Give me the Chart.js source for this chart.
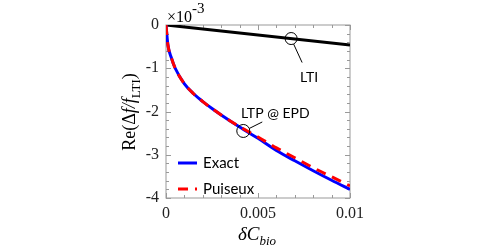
<!DOCTYPE html>
<html>
<head>
<meta charset="utf-8">
<script src="https://cdn.jsdelivr.net/npm/chart.js@4.4.1/dist/chart.umd.min.js"></script>
<style>
  html, body { margin: 0; padding: 0; background: #fff; }
  #wrap { width: 485px; height: 249px; }
</style>
</head>
<body>
<div id="wrap"><canvas id="chart" width="485" height="249"></canvas></div>
<script>
// values, y in units of 1e-3
const xValues = [0, 0.0001, 0.0003, 0.0005, 0.001, 0.0015, 0.002, 0.0025, 0.003, 0.004, 0.005, 0.006, 0.007, 0.008, 0.009, 0.01];
const exactValues = [0, -0.45, -0.77, -1.0, -1.36, -1.59, -1.77, -1.93, -2.08, -2.36, -2.62, -2.9, -3.14, -3.37, -3.59, -3.8];
const puiseuxValues = [0, -0.45, -0.77, -1.0, -1.36, -1.59, -1.77, -1.93, -2.08, -2.35, -2.59, -2.84, -3.07, -3.3, -3.51, -3.72];
const ltiX = [0, 0.01];
const ltiValues = [0, -0.46];

const xMajorTicks = [0, 0.005, 0.01];
const yMajorTicks = [0, -1, -2, -3, -4];

const serif = "'Liberation Serif', 'Times New Roman', serif";
const sans = "Lato, 'Open Sans', sans-serif";

const toPoints = (xs, ys) => xs.map((x, i) => ({ x: x, y: ys[i] }));

// draw a row of text pieces (font + vertical shift), centred on cx
function drawPieces(ctx, pieces, cx, baseline) {
    let total = 0;
    pieces.forEach(p => { ctx.font = p.font; total += ctx.measureText(p.text).width; });
    let x = cx - total / 2;
    pieces.forEach(p => {
        ctx.font = p.font;
        ctx.fillText(p.text, x, baseline + (p.dy || 0));
        x += ctx.measureText(p.text).width;
    });
}

// box with inward ticks on all four sides, plus labels and legend
const frame = {
    id: "frame",
    beforeDatasetsDraw(chart) {
        const { ctx, chartArea: a, scales: { x, y } } = chart;
        ctx.save();
        ctx.strokeStyle = "#999";
        ctx.lineWidth = 1;
        ctx.strokeRect(a.left, a.top, a.right - a.left, a.bottom - a.top);
        ctx.beginPath();
        for (let i = 0; i <= 10; i++) {
            const px = Math.round(x.getPixelForValue(i * 0.001)) + 0.5;
            const len = (i % 5 === 0) ? 5 : 3;
            ctx.moveTo(px, a.bottom); ctx.lineTo(px, a.bottom - len);
            ctx.moveTo(px, a.top); ctx.lineTo(px, a.top + len);
        }
        for (let i = 0; i <= 20; i++) {
            const py = Math.round(y.getPixelForValue(-i * 0.2)) + 0.5;
            const len = (i % 5 === 0) ? 5 : 3;
            ctx.moveTo(a.left, py); ctx.lineTo(a.left + len, py);
            ctx.moveTo(a.right, py); ctx.lineTo(a.right - len, py);
        }
        ctx.stroke();
        ctx.restore();
    },
    afterDatasetsDraw(chart) {
        const { ctx, scales: { x, y } } = chart;
        const ds = chart.data.datasets;
        ctx.save();

        // annotation circles and leaders
        ctx.strokeStyle = "#000";
        ctx.lineWidth = 1;
        const lx = x.getPixelForValue(0.0068), ly = y.getPixelForValue(-0.313);
        ctx.beginPath(); ctx.arc(lx, ly, 6, 0, Math.PI * 2); ctx.stroke();
        ctx.beginPath(); ctx.moveTo(lx + 2.5, ly + 5.5); ctx.lineTo(lx + 11, ly + 24); ctx.stroke();
        const ex = x.getPixelForValue(0.0042), ey = y.getPixelForValue(-2.45);
        ctx.beginPath(); ctx.arc(ex, ey, 6.5, 0, Math.PI * 2); ctx.stroke();
        ctx.beginPath(); ctx.moveTo(ex + 6, ey - 2.5); ctx.lineTo(ex + 19, ey - 9); ctx.stroke();

        ctx.fillStyle = "#000";
        ctx.textBaseline = "alphabetic";
        ctx.textAlign = "left";
        ctx.font = "14px " + sans;
        ctx.fillText("LTI", lx + 9, ly + 43);
        ctx.fillText("LTP @ EPD", 241, 118);

        // legend
        const items = [
            { d: ds[1], label: "Exact", y: 163 },
            { d: ds[0], label: "Puiseux", y: 189 }
        ];
        items.forEach(it => {
            ctx.strokeStyle = it.d.borderColor;
            ctx.lineWidth = it.d.borderWidth;
            ctx.setLineDash(it.d.borderDash || []);
            ctx.beginPath(); ctx.moveTo(178, it.y); ctx.lineTo(197, it.y); ctx.stroke();
            ctx.setLineDash([]);
            ctx.font = "15px " + sans;
            ctx.textBaseline = "middle";
            ctx.fillText(it.label, 203, it.y);
        });

        // scale factor
        ctx.textBaseline = "alphabetic";
        ctx.font = "16px " + serif;
        ctx.fillText("\u00d710", 167, 22);
        ctx.font = "15px " + serif;
        ctx.fillText("-3", 192, 13);

        // axis titles
        drawPieces(ctx, [
            { text: "\u03b4C", font: "italic 19px " + serif },
            { text: "bio", font: "italic 13px " + serif, dy: 5 }
        ], 257, 240);

        ctx.translate(135, 112);
        ctx.rotate(-Math.PI / 2);
        drawPieces(ctx, [
            { text: "Re(\u0394", font: "18px " + serif },
            { text: "f/f", font: "italic 18px " + serif },
            { text: "LTI", font: "13px " + serif, dy: 5 },
            { text: ")", font: "18px " + serif }
        ], 0, 0);
        ctx.restore();
    }
};

new Chart(document.getElementById("chart"), {
    type: "line",
    data: {
        datasets: [
            {
                label: "Puiseux",
                data: toPoints(xValues, puiseuxValues),
                borderColor: "#ff0000",
                borderWidth: 3,
                borderDash: [10, 7],
                cubicInterpolationMode: "monotone",
                order: 0
            },
            {
                label: "Exact",
                data: toPoints(xValues, exactValues),
                borderColor: "#0000ff",
                borderWidth: 3,
                cubicInterpolationMode: "monotone",
                order: 1
            },
            {
                label: "LTI",
                data: toPoints(ltiX, ltiValues),
                borderColor: "#000000",
                borderWidth: 3,
                order: 2
            }
        ]
    },
    options: {
        responsive: false,
        animation: false,
        events: [],
        layout: { padding: { left: 100, right: 135, top: 25, bottom: 31 } },
        elements: { point: { radius: 0 } },
        plugins: { legend: { display: false }, tooltip: { enabled: false } },
        scales: {
            x: {
                type: "linear",
                min: 0,
                max: 0.01,
                grid: { display: false, drawTicks: false },
                border: { display: false },
                afterBuildTicks: s => { s.ticks = xMajorTicks.map(v => ({ value: v })); },
                afterFit: s => { s.height = 20; },
                ticks: {
                    padding: 6,
                    maxRotation: 0,
                    color: "#222",
                    font: { family: serif, size: 16 },
                    callback: v => String(v)
                }
            },
            y: {
                type: "linear",
                min: -4,
                max: 0,
                grid: { display: false, drawTicks: false },
                border: { display: false },
                afterBuildTicks: s => { s.ticks = yMajorTicks.map(v => ({ value: v })); },
                afterFit: s => { s.width = 66; },
                ticks: {
                    padding: 7,
                    color: "#222",
                    font: { family: serif, size: 16 },
                    callback: v => String(v)
                }
            }
        }
    },
    plugins: [frame]
});
</script>
</body>
</html>
